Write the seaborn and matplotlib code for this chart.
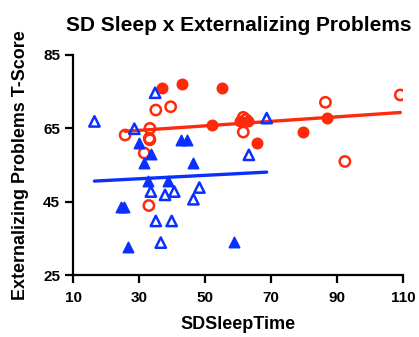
import matplotlib
matplotlib.use("Agg")
import matplotlib.pyplot as plt
import seaborn as sns
import pandas as pd
import numpy as np

# Red group (circles): filled and open subgroups
red_filled_x = [37.0, 43.0, 55.2, 52.1, 60.5, 63.0, 65.6, 79.5, 86.8]
red_filled_y = [75.9, 77.0, 75.9, 66.0, 67.0, 67.0, 61.0, 64.1, 67.9]
red_open_x = [25.7, 33.2, 33.2, 33.0, 35.0, 39.5, 31.5, 32.9, 61.5, 62.3, 61.5, 86.4, 92.3, 109.1]
red_open_y = [63.2, 65.0, 61.9, 62.3, 70.0, 70.9, 58.3, 44.0, 68.0, 67.4, 64.0, 72.1, 56.0, 74.1]

# Blue group (triangles): filled and open subgroups
blue_filled_x = [30.0, 33.6, 31.5, 42.5, 44.4, 46.2, 32.5, 38.6, 24.5, 25.5, 26.7, 58.8]
blue_filled_y = [61.0, 58.0, 55.5, 61.9, 61.9, 55.7, 50.7, 50.7, 43.7, 43.7, 32.8, 34.0]
blue_open_x = [16.4, 28.5, 34.8, 33.5, 37.8, 40.6, 48.2, 46.4, 35.0, 39.8, 36.5, 68.6, 63.2]
blue_open_y = [66.9, 64.9, 74.7, 47.8, 46.9, 47.8, 48.9, 45.7, 39.8, 39.8, 33.9, 67.8, 57.8]

x_ticks = [10, 30, 50, 70, 90, 110]
y_ticks = [25, 45, 65, 85]

title = "SD Sleep x Externalizing Problems"
xlabel = "SDSleepTime"
ylabel = "Externalizing Problems T-Score"

RED = "#FF2A0A"
BLUE = "#0A30FF"

sns.set_style("ticks")
plt.rcParams['font.family'] = ['Liberation Sans', 'DejaVu Sans']
plt.rcParams['text.color'] = 'black'
plt.rcParams['axes.labelcolor'] = 'black'
plt.rcParams['xtick.color'] = 'black'
plt.rcParams['ytick.color'] = 'black'

red = pd.DataFrame({"x": red_filled_x + red_open_x, "y": red_filled_y + red_open_y})
blue = pd.DataFrame({"x": blue_filled_x + blue_open_x, "y": blue_filled_y + blue_open_y})

fig = plt.figure(figsize=(4.19, 3.37), dpi=100)
ax = fig.add_axes([0.175, 0.183, 0.7875, 0.654])

sns.regplot(data=red, x="x", y="y", scatter=False, ci=None, ax=ax,
            line_kws=dict(color=RED, lw=2.4, zorder=2))
sns.regplot(data=blue, x="x", y="y", scatter=False, ci=None, ax=ax,
            line_kws=dict(color=BLUE, lw=2.4, zorder=2))

ms = 55
sns.scatterplot(x=red_filled_x, y=red_filled_y, ax=ax, marker="o", s=ms,
                color=RED, edgecolor=RED, linewidth=1.2, zorder=3)
sns.scatterplot(x=red_open_x, y=red_open_y, ax=ax, marker="o", s=ms,
                facecolor="none", edgecolor=RED, linewidth=1.8, zorder=3)
sns.scatterplot(x=blue_filled_x, y=blue_filled_y, ax=ax, marker="^", s=ms,
                color=BLUE, edgecolor=BLUE, linewidth=1.2, zorder=3)
sns.scatterplot(x=blue_open_x, y=blue_open_y, ax=ax, marker="^", s=ms,
                facecolor="none", edgecolor=BLUE, linewidth=1.8, zorder=3)

ax.set_xlim(10, 110)
ax.set_ylim(25, 85)
ax.set_xticks(x_ticks)
ax.set_yticks(y_ticks)
ax.set_xticklabels([str(t) for t in x_ticks], fontweight="bold", fontsize=11, color="black")
ax.set_yticklabels([str(t) for t in y_ticks], fontweight="bold", fontsize=11, color="black")
for s in ["top", "right"]:
    ax.spines[s].set_visible(False)
for s in ["left", "bottom"]:
    ax.spines[s].set_linewidth(1.6)
    ax.spines[s].set_color("black")
ax.tick_params(axis="both", direction="out", length=5.5, width=1.6, color="black")
ax.tick_params(axis="x", pad=6)
ax.tick_params(axis="y", pad=4)
ax.set_xlabel(xlabel, fontweight="bold", fontsize=13, labelpad=8, color="black")
ax.set_ylabel(ylabel, fontweight="bold", fontsize=12.9, labelpad=10, color="black")
ax.set_title(title, fontweight="bold", fontsize=15, pad=17, color="black")

fig.savefig("out.png", dpi=100)
